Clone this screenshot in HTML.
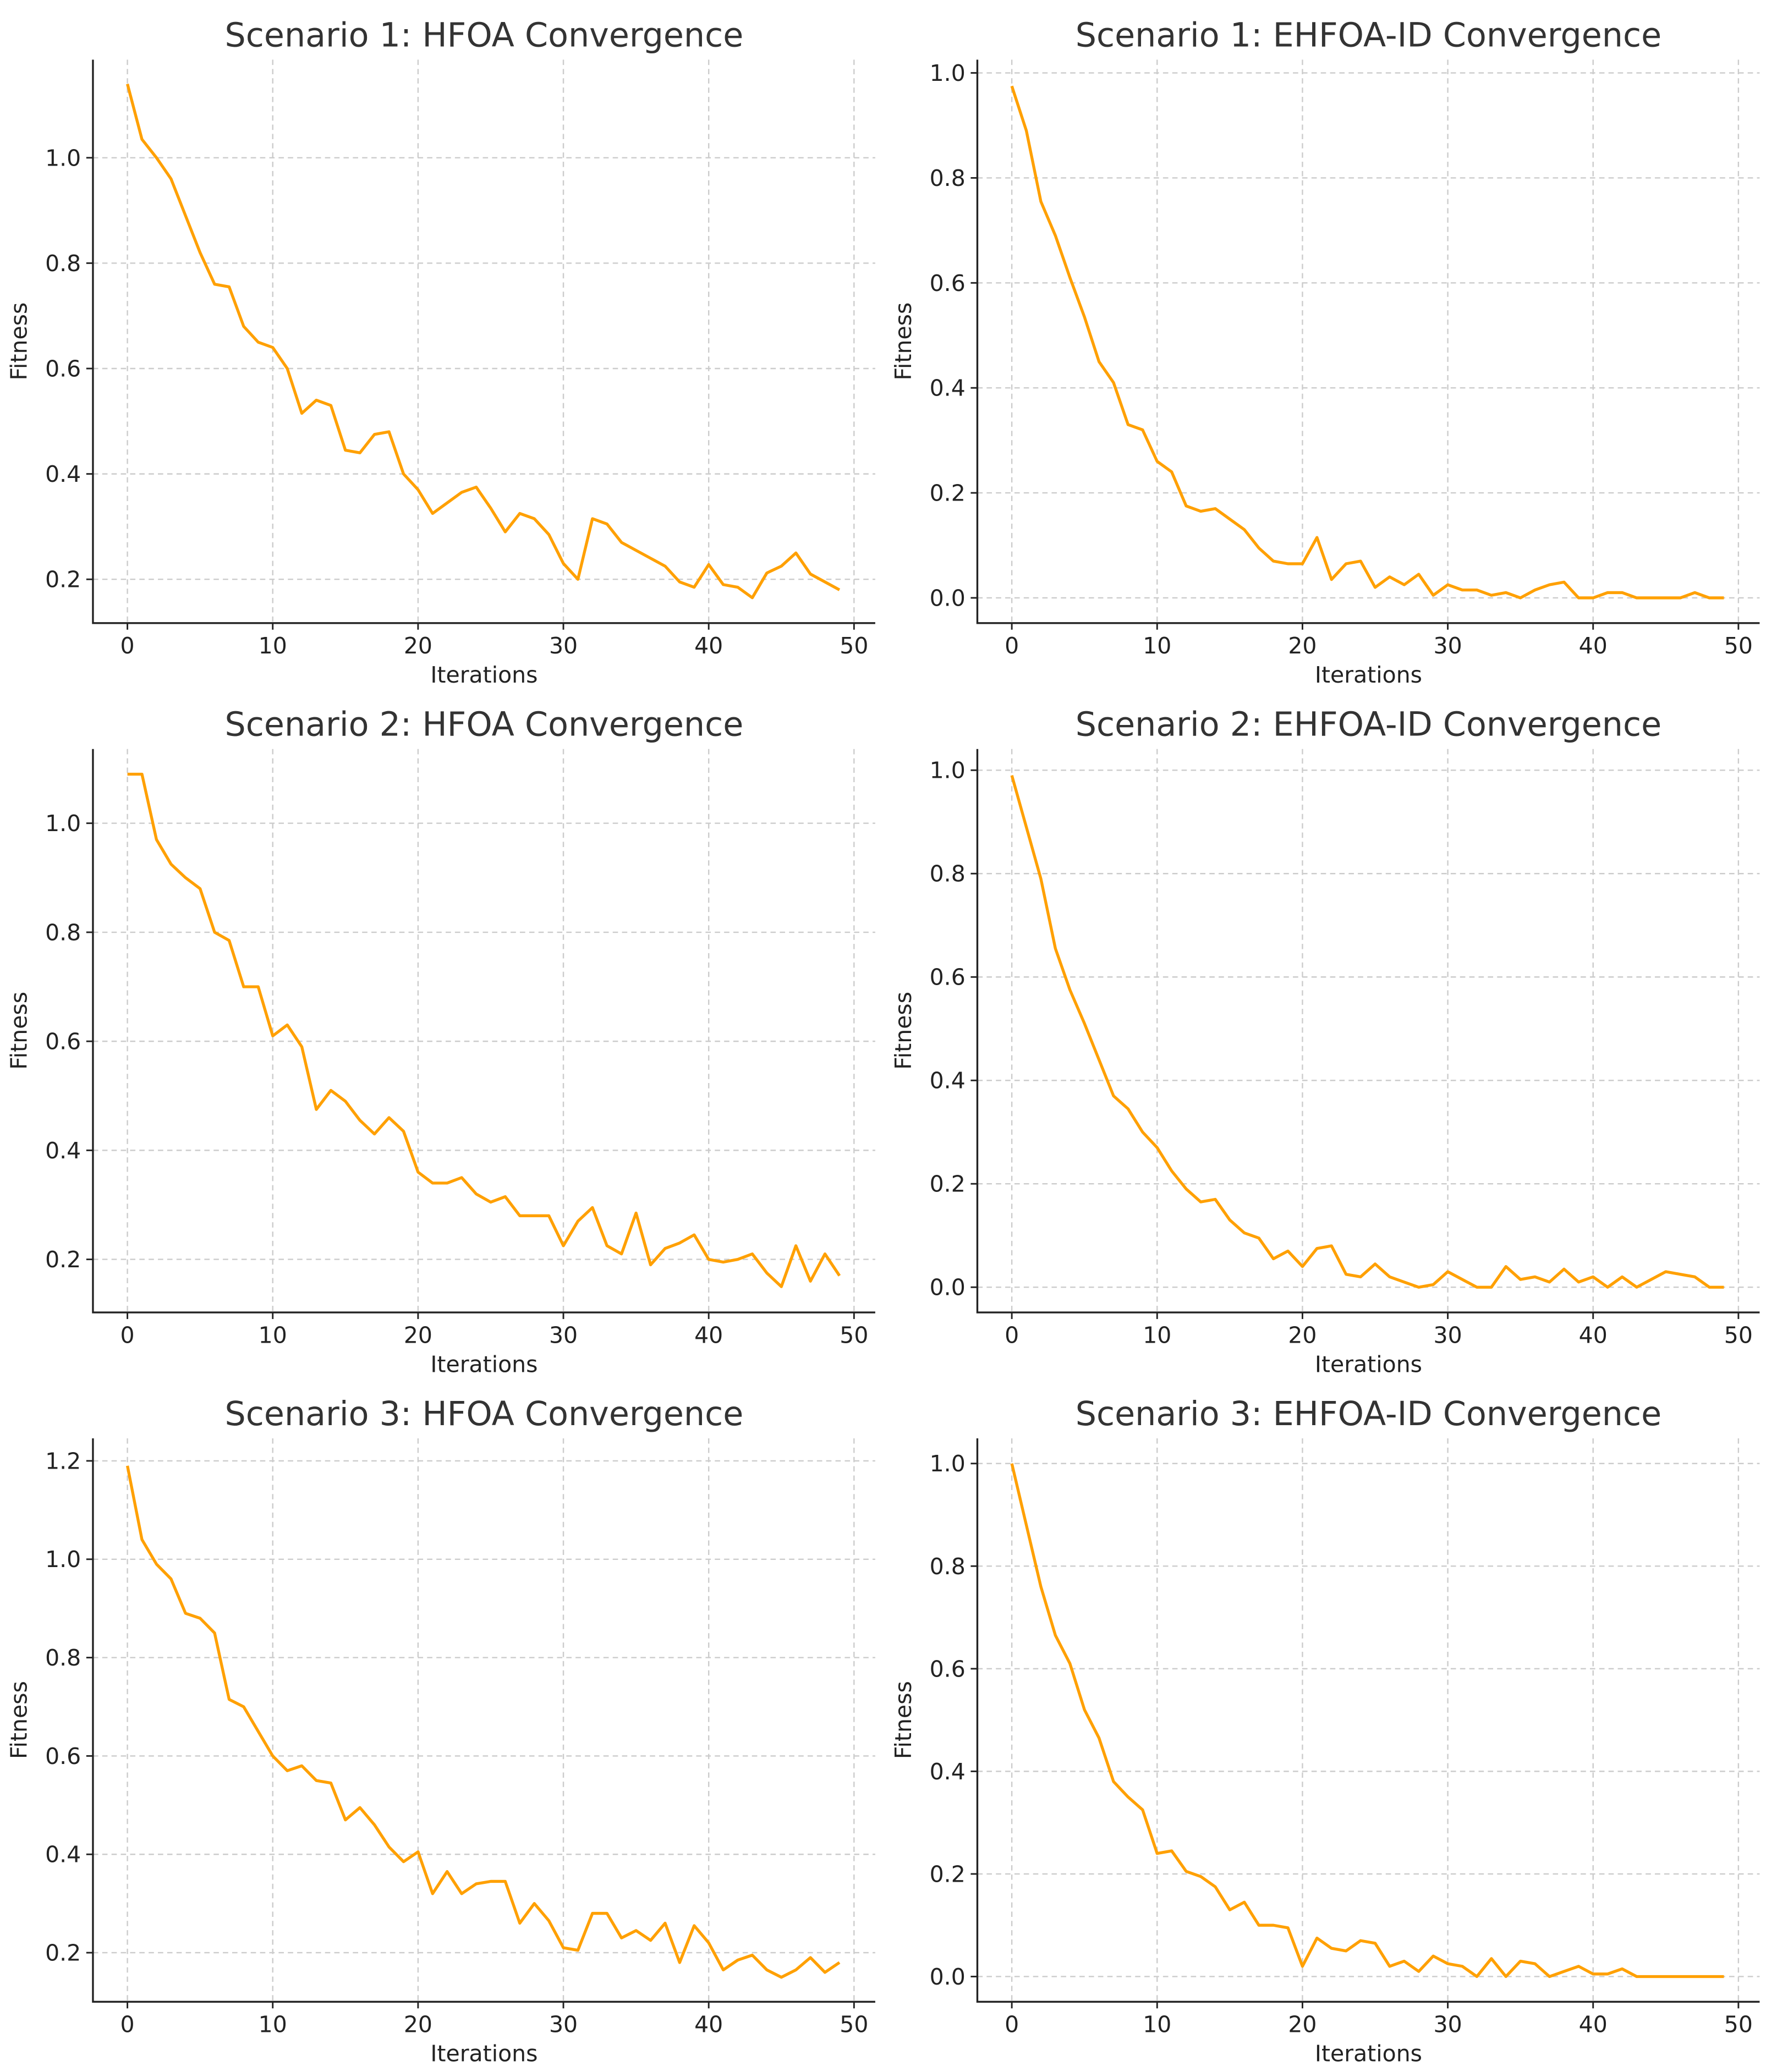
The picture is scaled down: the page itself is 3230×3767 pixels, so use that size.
<!DOCTYPE html>
<html><head><meta charset="utf-8"><style>
html,body{margin:0;padding:0;background:#fff;}
svg{display:block;font-family:"DejaVu Sans","Liberation Sans",sans-serif;}
</style></head><body>
<svg id="chart" width="3230" height="3767" viewBox="0 0 1340 1563" xmlns="http://www.w3.org/2000/svg"></svg>
<script>
const iterations = Array.from({length:50},(_,i)=>i);
const xTicks = [0,10,20,30,40,50];
const titles = ["Scenario 1: HFOA Convergence","Scenario 1: EHFOA-ID Convergence","Scenario 2: HFOA Convergence","Scenario 2: EHFOA-ID Convergence","Scenario 3: HFOA Convergence","Scenario 3: EHFOA-ID Convergence"];
const s1Hfoa = [1.14,1.035,1.0,0.96,0.89,0.82,0.76,0.755,0.68,0.65,0.64,0.60,0.515,0.54,0.53,0.445,0.44,0.475,0.48,0.40,0.37,0.325,0.345,0.365,0.375,0.335,0.29,0.325,0.315,0.285,0.23,0.20,0.315,0.305,0.27,0.255,0.24,0.225,0.195,0.185,0.228,0.19,0.185,0.165,0.212,0.225,0.25,0.21,0.195,0.18];
const s1Ehfoa = [0.975,0.89,0.755,0.69,0.61,0.535,0.45,0.41,0.33,0.32,0.26,0.24,0.175,0.165,0.17,0.15,0.13,0.095,0.07,0.065,0.065,0.115,0.035,0.065,0.07,0.02,0.04,0.025,0.045,0.005,0.025,0.015,0.015,0.005,0.01,0.0,0.015,0.025,0.03,0.0,0.0,0.01,0.01,0.0,0.0,0.0,0.0,0.01,0.0,0.0];
const s2Hfoa = [1.09,1.09,0.97,0.925,0.9,0.88,0.8,0.785,0.7,0.7,0.61,0.63,0.59,0.475,0.51,0.49,0.455,0.43,0.46,0.435,0.36,0.34,0.34,0.35,0.32,0.305,0.315,0.28,0.28,0.28,0.225,0.27,0.295,0.225,0.21,0.285,0.19,0.22,0.23,0.245,0.2,0.195,0.2,0.21,0.175,0.15,0.225,0.16,0.21,0.17];
const s2Ehfoa = [0.99,0.89,0.79,0.655,0.575,0.51,0.44,0.37,0.345,0.3,0.27,0.225,0.19,0.165,0.17,0.13,0.105,0.095,0.055,0.07,0.04,0.075,0.08,0.025,0.02,0.045,0.02,0.01,0.0,0.005,0.03,0.015,0.0,0.0,0.04,0.015,0.02,0.01,0.035,0.01,0.02,0.0,0.02,0.0,0.015,0.03,0.025,0.02,0.0,0.0];
const s3Hfoa = [1.19,1.04,0.99,0.96,0.89,0.88,0.85,0.715,0.70,0.65,0.60,0.57,0.58,0.55,0.545,0.47,0.495,0.46,0.415,0.385,0.405,0.32,0.365,0.32,0.34,0.345,0.345,0.26,0.3,0.265,0.21,0.205,0.28,0.28,0.23,0.245,0.225,0.26,0.18,0.255,0.22,0.165,0.185,0.195,0.165,0.15,0.165,0.19,0.16,0.18];
const s3Ehfoa = [1.0,0.88,0.76,0.665,0.61,0.52,0.465,0.38,0.35,0.325,0.24,0.245,0.205,0.195,0.175,0.13,0.145,0.10,0.10,0.095,0.02,0.075,0.055,0.05,0.07,0.065,0.02,0.03,0.01,0.04,0.025,0.02,0.0,0.035,0.0,0.03,0.025,0.0,0.01,0.02,0.005,0.005,0.015,0.0,0.0,0.0,0.0,0.0,0.0,0.0];
const yTicksHfoa12 = [0.2,0.4,0.6,0.8,1.0];
const yTicksEhfoa = [0.0,0.2,0.4,0.6,0.8,1.0];
const yTicksHfoa3 = [0.2,0.4,0.6,0.8,1.0,1.2];

const series=[s1Hfoa,s1Ehfoa,s2Hfoa,s2Ehfoa,s3Hfoa,s3Ehfoa];
const yTicks=[yTicksHfoa12,yTicksEhfoa,yTicksHfoa12,yTicksEhfoa,yTicksHfoa3,yTicksEhfoa];
const layout=[
 [70,660,45,470,96,644,1.0,119,0.2,437],
 [737,1327,45,470,763,1311,1.0,55,0.0,451],
 [70,660,565,990,96,644,1.0,621,0.2,950],
 [737,1327,565,990,763,1311,1.0,581,0.0,971],
 [70,660,1085,1510,96,644,1.2,1102,0.2,1473],
 [737,1327,1085,1510,763,1311,1.0,1104,0.0,1491]];
const NS="http://www.w3.org/2000/svg";
const svg=document.getElementById('chart');
function mk(tag,attrs,parent){const e=document.createElementNS(NS,tag);for(const k in attrs)e.setAttribute(k,attrs[k]);(parent||svg).appendChild(e);return e;}
series.forEach((data,p)=>{
  const [L,R,T,B,x0,x50,vA,yA,vB,yB]=layout[p];
  const xs=v=>x0+(x50-x0)*v/50;
  const ys=v=>yA+(yB-yA)*(v-vA)/(vB-vA);
  const g=mk('g',{});
  
  
  xTicks.forEach(t=>{
    const gl=mk('line',{x1:xs(t),x2:xs(t),y1:T,y2:B,stroke:'#cccccc','stroke-width':1,'stroke-dasharray':'4,3'},g);
    
    
    mk('line',{x1:xs(t),x2:xs(t),y1:B,y2:B+5,stroke:'#222','stroke-width':1.2},g);
    const tx=mk('text',{x:xs(t),y:B+23,'font-size':17,'text-anchor':'middle',fill:'#222'},g);
    tx.textContent=t;
    
    
  });
  yTicks[p].forEach(t=>{
    const gl=mk('line',{x1:L,x2:R,y1:ys(t),y2:ys(t),stroke:'#cccccc','stroke-width':1,'stroke-dasharray':'4,3'},g);
    
    
    mk('line',{x1:L-5,x2:L,y1:ys(t),y2:ys(t),stroke:'#222','stroke-width':1.2},g);
    const tx=mk('text',{x:L-9,y:ys(t)+6,'font-size':17,'text-anchor':'end',fill:'#222'},g);
    tx.textContent=t.toFixed(1);
    
    
  });
  const sp=mk('path',{d:`M${L},${T}V${B}H${R}`,fill:'none',stroke:'#222','stroke-width':1.4},g);
  
  
  const ln=mk('polyline',{points:data.map((v,i)=>xs(iterations[i])+','+ys(v)).join(' '),fill:'none',stroke:'#FFA000','stroke-width':2.2,'stroke-linejoin':'round'},g);
  
  
  const ti=mk('text',{x:(L+R)/2,y:T-10,'font-size':25,'text-anchor':'middle',fill:'#333'},g);
  ti.textContent=titles[p];
  
  
  const xl=mk('text',{x:(L+R)/2,y:B+45,'font-size':17,'text-anchor':'middle',fill:'#222'},g);
  xl.textContent='Iterations';
  
  
  const cy=(T+B)/2;
  const yl=mk('text',{x:L-50,y:cy,'font-size':17,'text-anchor':'middle',fill:'#222',transform:`rotate(-90 ${L-50} ${cy})`},g);
  yl.textContent='Fitness';
  
  
});
</script>
</body></html>
